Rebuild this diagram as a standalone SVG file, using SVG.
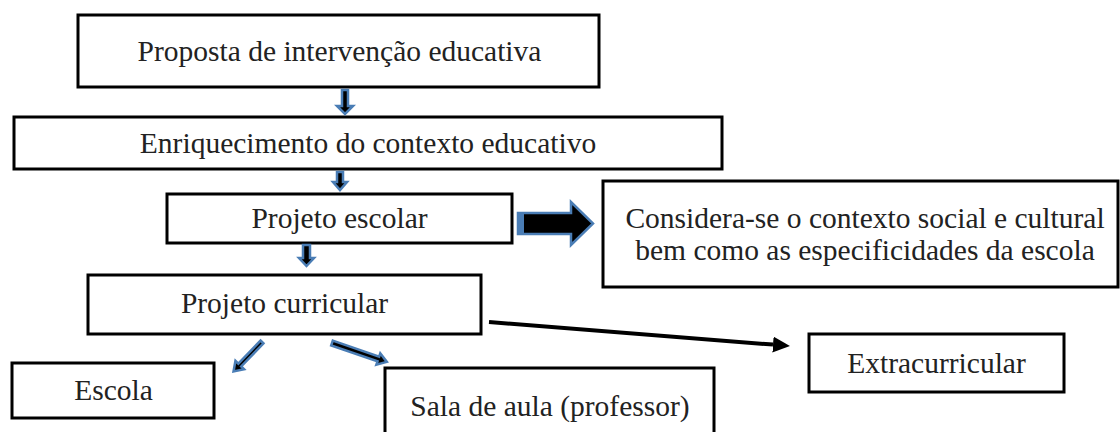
<svg xmlns="http://www.w3.org/2000/svg" width="1120" height="432" viewBox="0 0 1120 432">
<style>
.box{fill:#fff;stroke:#000;stroke-width:3}
.blk{fill:#000;stroke:#4a7db5;stroke-width:2.5;stroke-linejoin:miter}
.ln{stroke:#000;stroke-width:4;fill:none}
</style>
<defs>
<marker id="ah" viewBox="0 0 17 16" refX="0" refY="8" markerWidth="17" markerHeight="16" markerUnits="userSpaceOnUse" orient="auto">
<path d="M0,0 L17,8 L0,16 z" fill="#000"/>
</marker>
</defs>
<rect width="1120" height="432" fill="#fff"/>
<g id="n1"><rect class="box" x="78" y="15" width="521" height="72"/><text font-family="Liberation Serif, serif" font-size="29.5" fill="#222" text-anchor="middle" x="339.5" y="61">Proposta de intervenção educativa</text></g>
<g id="n2"><rect class="box" x="14" y="117" width="708" height="52"/><text font-family="Liberation Serif, serif" font-size="29.5" fill="#222" text-anchor="middle" x="368" y="153">Enriquecimento do contexto educativo</text></g>
<g id="n3"><rect class="box" x="167" y="194" width="345" height="49"/><text font-family="Liberation Serif, serif" font-size="29.5" fill="#222" text-anchor="middle" x="339.5" y="228">Projeto escolar</text></g>
<g id="n4"><rect class="box" x="88" y="275" width="393" height="59"/><text font-family="Liberation Serif, serif" font-size="29.5" fill="#222" text-anchor="middle" x="284.5" y="313">Projeto curricular</text></g>
<g id="n5"><rect class="box" x="603" y="181" width="515" height="106"/><text font-family="Liberation Serif, serif" font-size="29.5" fill="#222" text-anchor="middle" x="865" y="228">Considera-se o contexto social e cultural</text><text font-family="Liberation Serif, serif" font-size="29.5" fill="#222" text-anchor="middle" x="865" y="260">bem como as especificidades da escola</text></g>
<g id="n6"><rect class="box" x="12" y="363" width="202" height="55"/><text font-family="Liberation Serif, serif" font-size="29.5" fill="#222" text-anchor="middle" x="113.5" y="400">Escola</text></g>
<g id="n7"><rect class="box" x="385" y="368" width="329" height="68"/><text font-family="Liberation Serif, serif" font-size="29.5" fill="#222" text-anchor="middle" x="550" y="416">Sala de aula (professor)</text></g>
<g id="n8"><rect class="box" x="809" y="334" width="255" height="58"/><text font-family="Liberation Serif, serif" font-size="29.5" fill="#222" text-anchor="middle" x="936.5" y="373">Extracurricular</text></g>
<g id="connectors">
<polygon class="blk" points="342,90 348,90 348,106 353,106 345,114 337,106 342,106"/>
<polygon class="blk" points="337,172 343,172 343,182 347,182 340,190 333,182 337,182"/>
<polygon class="blk" points="303,245 310,245 310,258 314,258 306.5,266 299,258 303,258"/>
<polygon class="blk" points="518,213 571,213 571,202 593,223.5 571,245 571,234 518,234"/>
<rect x="517" y="212" width="7" height="23" fill="#4a7db5"/>
<polygon class="blk" transform="translate(262,342) rotate(134)" points="0,-2 32,-2 32,-6 41,0 32,6 32,2 0,2"/>
<polygon class="blk" transform="translate(332,343) rotate(19)" points="0,-2.5 49,-2.5 49,-6 58,0 49,6 49,2.5 0,2.5"/>
<line class="ln" x1="489" y1="322" x2="773" y2="344.6" marker-end="url(#ah)"/>
</g>
</svg>
